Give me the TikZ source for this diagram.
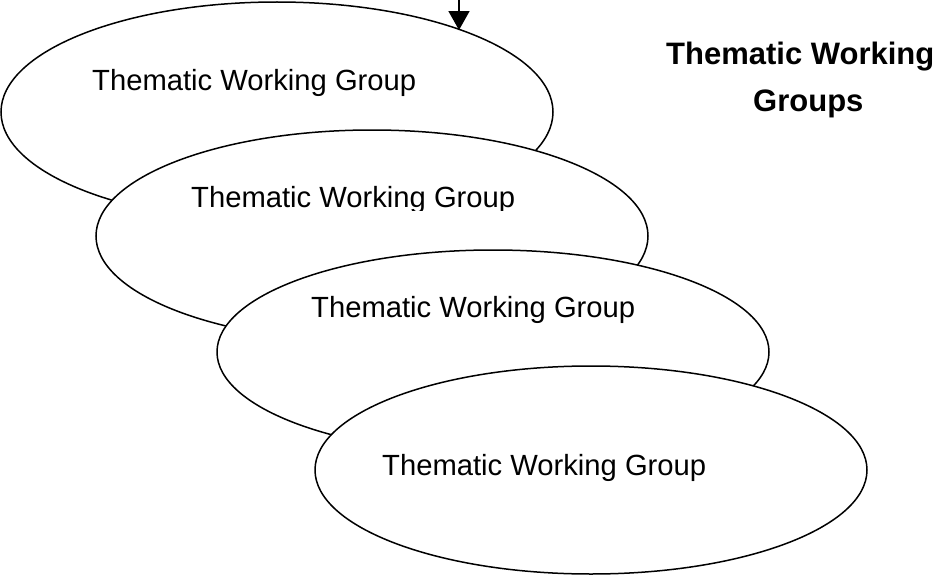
\documentclass[tikz,border=0pt]{standalone}
\usepackage{fontspec}
\setmainfont{Liberation Sans}
\usetikzlibrary{arrows.meta,shapes.geometric}
\begin{document}
\begin{tikzpicture}[x=1pt,y=-1pt,
  grp/.style={ellipse,draw=black,fill=white,line width=1.5pt,inner sep=0pt,outer sep=0pt,minimum width=552pt,minimum height=210pt},
  lbl/.style={anchor=base west,inner sep=0pt,font=\fontsize{29.2}{34}\selectfont},
  ttl/.style={anchor=base west,inner sep=0pt,font=\fontsize{31}{36}\selectfont\bfseries},
  feed/.style={line width=1.5pt,-{Triangle[width=21pt,length=19pt]}}]
\useasboundingbox (0,0) rectangle (943,578);
% group 1
\node[grp, minimum height=220pt] (e1) at (277,112) {};
\node[lbl] (t1) at (92,91) {Thematic Working Group};
% group 2
\node[grp, minimum height=212pt] (e2) at (372,236) {};
\begin{scope}
  \clip (0,0) rectangle (943,210);
  \node[lbl] (t2) at (191,207) {Thematic Working Group};
\end{scope}
% group 3
\node[grp, minimum height=204pt] (e3) at (493,352) {};
\node[lbl] (t3) at (311,317.5) {Thematic Working Group};
% group 4
\node[grp, minimum height=208pt] (e4) at (591,470) {};
\node[lbl] (t4) at (382,475) {Thematic Working Group};
% title
\node[ttl] (h1) at (666,65) {Thematic Working};
\node[ttl] (h2) at (753,111) {Groups};
% incoming arrow
\coordinate (a0) at (459,0);
\draw[feed] (a0) -- (a0 |- e1.24.5);
\end{tikzpicture}
\end{document}
